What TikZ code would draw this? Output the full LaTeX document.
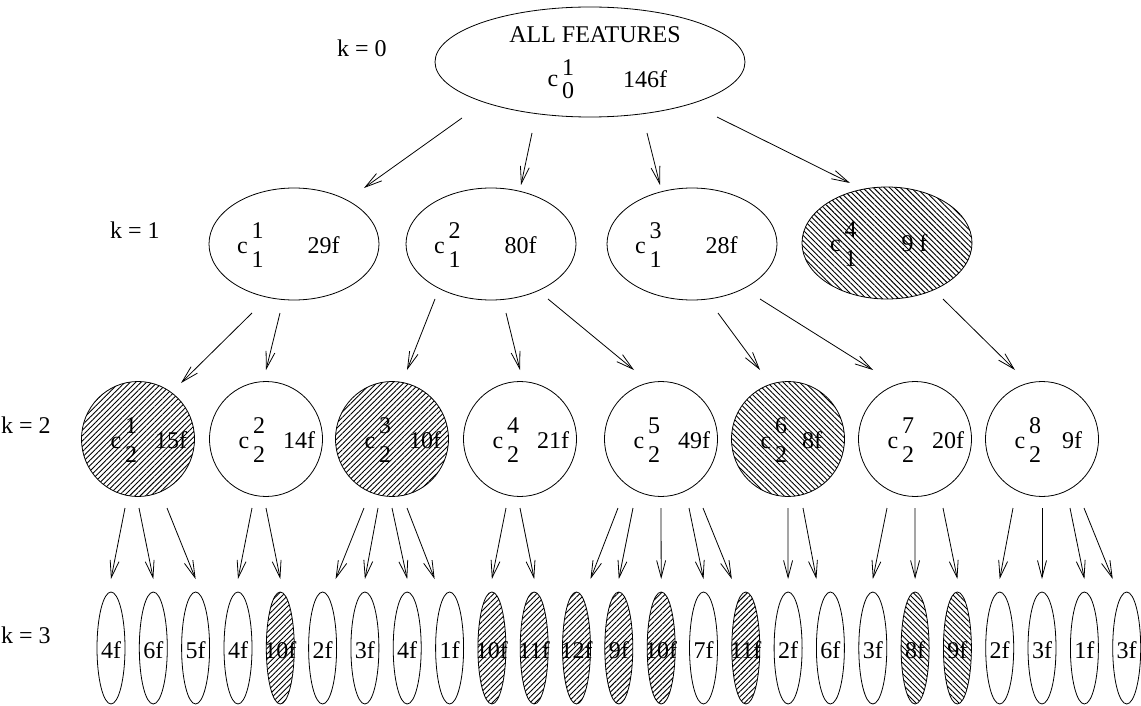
\documentclass[tikz,border=0pt]{standalone}
\usepackage{fontspec}
\setmainfont{Liberation Serif}
\usetikzlibrary{shapes.geometric,arrows.meta,patterns.meta,calc}
% zero-size placed text: dx from node centre, dy = baseline below centre
\newcommand\pl[3]{\makebox[0pt][l]{\hspace{#1}\raisebox{-#2}[0pt][0pt]{#3}}}
\newcommand\pc[3]{\makebox[0pt][l]{\hspace{#1}\makebox[0pt][c]{\raisebox{-#2}[0pt][0pt]{#3}}}}
\newcommand\cc[3][14.5pt]{c\kern4pt\rlap{\raisebox{#1}{#2}}\raisebox{-#1}{#3}}
\tikzset{
  base/.style={draw, line width=0.8pt, inner sep=0pt, outer sep=0pt, ellipse,
    font=\fontsize{24}{29}\selectfont},
  ezero/.style={base, minimum width=310pt, minimum height=110pt},
  eone/.style={base, minimum width=170pt, minimum height=112pt},
  etwo/.style={base, minimum width=113pt, minimum height=115pt},
  ethree/.style={base, minimum width=28pt, minimum height=112pt},
  hne/.style={pattern={Lines[angle=45,distance=3.8pt,line width=0.9pt]}},
  hnw/.style={pattern={Lines[angle=-45,distance=3.8pt,line width=0.9pt]}},
  arr/.style={-{Straight Barb[length=17pt,width=9pt]}, line width=0.8pt},
  klabel/.style={anchor=base west, inner sep=0pt, font=\fontsize{24}{29}\selectfont}
}
\begin{document}
\begin{tikzpicture}[x=1pt,y=-1pt]
\useasboundingbox (0,0) rectangle (1141,706);

% level labels
\node[klabel] (k0) at (337,57) {k = 0};
\node[klabel] (k1) at (110,238) {k = 1};
\node[klabel] (k2) at (1,433) {k = 2};
\node[klabel] (k3) at (1,643) {k = 3};

% level 0
\node[ezero] (n0) at (590,62) {\pc{5pt}{-19pt}{ALL FEATURES}\pl{-42.5pt}{25pt}{\cc[11.5pt]{1}{0}}\pl{33pt}{26pt}{146f}};

% level 1
\node[eone] (n11) at (294,244) {\pl{-57pt}{9pt}{\cc{1}{1}}\pl{13.5pt}{9pt}{29f}};
\node[eone] (n12) at (491,244) {\pl{-57pt}{9pt}{\cc{2}{1}}\pl{13.5pt}{9pt}{80f}};
\node[eone] (n13) at (692,244) {\pl{-57pt}{9pt}{\cc{3}{1}}\pl{13.5pt}{9pt}{28f}};
\node[eone,hnw] (n14) at (887,243) {\pl{-57pt}{9pt}{\cc{4}{1}}\pl{14.5pt}{9pt}{9 f}};

% level 2
\node[etwo,hne] (n21) at (138,439) {\pl{-27.5pt}{9pt}{\cc{1}{2}}\pl{17pt}{9pt}{15f}};
\node[etwo] (n22) at (266,439) {\pl{-27.5pt}{9pt}{\cc{2}{2}}\pl{17pt}{9pt}{14f}};
\node[etwo,hne] (n23) at (392,439) {\pl{-27.5pt}{9pt}{\cc{3}{2}}\pl{17pt}{9pt}{10f}};
\node[etwo] (n24) at (520,439) {\pl{-27.5pt}{9pt}{\cc{4}{2}}\pl{17pt}{9pt}{21f}};
\node[etwo] (n25) at (661,439) {\pl{-27.5pt}{9pt}{\cc{5}{2}}\pl{17pt}{9pt}{49f}};
\node[etwo,hnw] (n26) at (788,439) {\pl{-27.5pt}{9pt}{\cc{6}{2}}\pl{14pt}{9pt}{8f}};
\node[etwo] (n27) at (915,439) {\pl{-27.5pt}{9pt}{\cc{7}{2}}\pl{17pt}{9pt}{20f}};
\node[etwo] (n28) at (1042,439) {\pl{-27.5pt}{9pt}{\cc{8}{2}}\pl{20pt}{9pt}{9f}};

% level 3
\node[ethree] (l0) at (111.0,648) {\pc{0pt}{10pt}{4f}};
\node[ethree] (l1) at (153.3,648) {\pc{0pt}{10pt}{6f}};
\node[ethree] (l2) at (195.6,648) {\pc{0pt}{10pt}{5f}};
\node[ethree] (l3) at (238.0,648) {\pc{0pt}{10pt}{4f}};
\node[ethree,hne] (l4) at (280.3,648) {\pc{0pt}{10pt}{10f}};
\node[ethree] (l5) at (322.6,648) {\pc{0pt}{10pt}{2f}};
\node[ethree] (l6) at (364.9,648) {\pc{0pt}{10pt}{3f}};
\node[ethree] (l7) at (407.2,648) {\pc{0pt}{10pt}{4f}};
\node[ethree] (l8) at (449.6,648) {\pc{0pt}{10pt}{1f}};
\node[ethree,hne] (l9) at (491.9,648) {\pc{0pt}{10pt}{10f}};
\node[ethree,hne] (l10) at (534.2,648) {\pc{0pt}{10pt}{11f}};
\node[ethree,hne] (l11) at (576.5,648) {\pc{0pt}{10pt}{12f}};
\node[ethree,hne] (l12) at (618.8,648) {\pc{0pt}{10pt}{9f}};
\node[ethree,hne] (l13) at (661.2,648) {\pc{0pt}{10pt}{10f}};
\node[ethree] (l14) at (703.5,648) {\pc{0pt}{10pt}{7f}};
\node[ethree,hne] (l15) at (745.8,648) {\pc{0pt}{10pt}{11f}};
\node[ethree] (l16) at (788.1,648) {\pc{0pt}{10pt}{2f}};
\node[ethree] (l17) at (830.4,648) {\pc{0pt}{10pt}{6f}};
\node[ethree] (l18) at (872.8,648) {\pc{0pt}{10pt}{3f}};
\node[ethree,hnw] (l19) at (915.1,648) {\pc{0pt}{10pt}{8f}};
\node[ethree,hnw] (l20) at (957.4,648) {\pc{0pt}{10pt}{9f}};
\node[ethree] (l21) at (999.7,648) {\pc{0pt}{10pt}{2f}};
\node[ethree] (l22) at (1042.0,648) {\pc{0pt}{10pt}{3f}};
\node[ethree] (l23) at (1084.4,648) {\pc{0pt}{10pt}{1f}};
\node[ethree] (l24) at (1126.7,648) {\pc{0pt}{10pt}{3f}};

% arrows level 0 -> 1
\draw[arr] ($(n0)+(-128,56)$) -- ($(n11)+(70,-56)$);
\draw[arr] ($(n0)+(-58,71)$) -- ($(n12)+(30,-59)$);
\draw[arr] ($(n0)+(57,71)$) -- ($(n13)+(-32,-59)$);
\draw[arr] ($(n0)+(127,55)$) -- ($(n14)+(-37,-60)$);

% arrows level 1 -> 2
\draw[arr] ($(n11)+(-42,69)$) -- ($(n21)+(43,-56)$);
\draw[arr] ($(n11)+(-14,69)$) -- ($(n22)+(0,-69)$);
\draw[arr] ($(n12)+(-56,55)$) -- ($(n23)+(15,-69)$);
\draw[arr] ($(n12)+(15,69)$) -- ($(n24)+(0,-69)$);
\draw[arr] ($(n12)+(57,55)$) -- ($(n25)+(-27,-69)$);
\draw[arr] ($(n13)+(26,69)$) -- ($(n26)+(-28,-69)$);
\draw[arr] ($(n13)+(68,55)$) -- ($(n27)+(-42,-69)$);
\draw[arr] ($(n14)+(56,56)$) -- ($(n28)+(-27,-69)$);

% arrows level 2 -> 3
\draw[arr] ($(n21)+(-13,69)$) -- ($(l0)+(0,-69)$);
\draw[arr] ($(n21)+(1,69)$) -- ($(l1)+(0,-69)$);
\draw[arr] ($(n21)+(29,69)$) -- ($(l2)+(0,-69)$);
\draw[arr] ($(n22)+(-14,69)$) -- ($(l3)+(0,-69)$);
\draw[arr] ($(n22)+(0,69)$) -- ($(l4)+(0,-69)$);
\draw[arr] ($(n23)+(-28,69)$) -- ($(l5)+(13,-69)$);
\draw[arr] ($(n23)+(-14,69)$) -- ($(l6)+(0,-69)$);
\draw[arr] ($(n23)+(0,69)$) -- ($(l7)+(0,-69)$);
\draw[arr] ($(n23)+(15,69)$) -- ($(l8)+(-15,-69)$);
\draw[arr] ($(n24)+(-14,69)$) -- ($(l9)+(0,-69)$);
\draw[arr] ($(n24)+(0,69)$) -- ($(l10)+(0,-69)$);
\draw[arr] ($(n25)+(-43,69)$) -- ($(l11)+(14,-69)$);
\draw[arr] ($(n25)+(-28,69)$) -- ($(l12)+(0,-69)$);
\draw[arr] ($(n25)+(0,69)$) -- ($(l13)+(0,-69)$);
\draw[arr] ($(n25)+(28,69)$) -- ($(l14)+(0,-69)$);
\draw[arr] ($(n25)+(42,69)$) -- ($(l15)+(-14,-69)$);
\draw[arr] ($(n26)+(0,69)$) -- ($(l16)+(0,-69)$);
\draw[arr] ($(n26)+(15,69)$) -- ($(l17)+(-14,-69)$);
\draw[arr] ($(n27)+(-28,69)$) -- ($(l18)+(0,-69)$);
\draw[arr] ($(n27)+(0,69)$) -- ($(l19)+(0,-69)$);
\draw[arr] ($(n27)+(28,69)$) -- ($(l20)+(0,-69)$);
\draw[arr] ($(n28)+(-29,69)$) -- ($(l21)+(0,-69)$);
\draw[arr] ($(n28)+(0,69)$) -- ($(l22)+(0,-69)$);
\draw[arr] ($(n28)+(28,69)$) -- ($(l23)+(0,-69)$);
\draw[arr] ($(n28)+(42,69)$) -- ($(l24)+(-14,-69)$);
\end{tikzpicture}
\end{document}
